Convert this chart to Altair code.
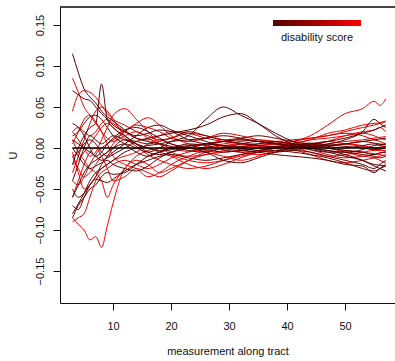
import altair as alt
import pandas as pd

# measurement positions along tract (sampled grid)
X = [3, 4, 5, 6, 7, 8, 9, 10, 12, 14, 16, 18, 20, 23, 26, 29, 32, 35, 38, 41, 44, 47, 50, 53, 55, 56, 57]

# disability score per subject (0 = black, 1 = red)
SCORES = [0.00, 0.95, 0.90, 0.00, 0.05, 1.00, 0.00, 0.00, 0.05, 0.95,
          0.90, 0.85, 0.10, 0.90, 0.00, 0.80, 0.05, 1.00, 0.15, 0.85,
          0.05, 0.95, 0.00, 0.75, 0.10, 0.95, 0.25, 0.85]

# U values (x 1000) for each subject
c01 = [115, 92, 72, 62, 55, 45, 38, 33, 22, 12, 8, 5, 2, -3, -5, 0, 5, 8, 6, 2, 0, -3, -5, -2, 3, 4, 5]
c02 = [85, 68, 50, 40, 30, 20, 12, 8, 15, 20, 12, 5, 0, -4, 2, 8, 10, 8, 5, 6, 10, 18, 22, 28, 30, 31, 33]
c03 = [45, 65, 70, 68, 62, 52, 42, 35, 28, 20, 15, 10, 12, 18, 15, 10, 5, 2, 0, -2, 0, 5, 8, 10, 12, 13, 14]
c04 = [70, 65, 60, 58, 50, 42, 35, 28, 20, 15, 18, 22, 20, 10, 5, 3, 2, 5, 8, 5, 3, 5, 10, 20, 35, 30, 25]
c05 = [-20, 0, 15, 25, 30, 78, 35, 25, 15, 5, -5, -8, -5, 0, 5, 8, 6, 3, 2, 4, 6, 4, 2, 0, -2, -1, 0]
c06 = [-85, -93, -100, -112, -108, -121, -95, -67, -25, -15, -20, -30, -25, -15, -8, -5, -3, 0, 2, 0, -5, -10, -8, -5, -3, -3, -4]
c07 = [-80, -68, -55, -40, -30, -25, -20, -15, -5, 0, 3, 5, 8, 10, 12, 15, 12, 8, 5, 3, 0, -3, -8, -15, -22, -25, -28]
c08 = [-60, -45, -30, -20, -15, -10, -5, 0, 5, 0, -5, 0, 8, 15, 35, 50, 40, 30, 18, 8, 0, -5, -10, -15, -20, -21, -22]
c09 = [10, 5, 0, -5, -10, -15, -12, -8, 0, 8, 12, 15, 18, 22, 28, 38, 42, 30, 15, 5, 2, 3, 5, 8, 10, 11, 12]
c10 = [-10, -25, -35, -30, -20, -10, -5, 5, 20, 30, 37, 28, 15, 5, 0, 3, 5, 5, 6, 8, 15, 28, 42, 48, 57, 52, 60]
c11 = [20, 10, 0, -10, -5, 10, 25, 40, 48, 35, 20, 5, -5, -10, -8, -3, 0, 3, 5, 3, -2, -8, -12, -10, -8, -6, -5]
c12 = [-30, -10, 10, 30, 45, 50, 45, 35, 15, 5, 0, -5, -10, -20, -25, -20, -12, -5, 0, 3, 5, 8, 5, 2, 0, 1, 2]
c13 = [-50, -60, -55, -45, -38, -40, -42, -38, -28, -20, -15, -10, -8, -12, -15, -12, -8, -5, -3, -5, -8, -12, -18, -25, -28, -25, -22]
c14 = [-60, -40, -20, -5, 0, -10, -25, -40, -35, -25, -30, -35, -28, -15, -5, 0, 2, 0, -3, -2, 0, 3, 5, 3, 0, -2, -3]
c15 = [0, -10, -20, -25, -22, -18, -15, -20, -25, -28, -22, -12, -5, 0, -5, -15, -18, -12, -5, 0, 2, 0, -3, -5, -8, -6, -5]
c16 = [20, 25, 20, 15, 20, 30, 35, 30, 20, 12, 10, 15, 20, 18, 12, 8, 5, 3, 5, 8, 12, 15, 20, 25, 28, 30, 32]
c17 = [-40, -20, 0, 15, 10, 5, 10, 15, 10, 5, 0, -3, 0, 5, 3, -2, -5, -3, 0, 2, 4, 2, 0, 3, 5, 3, 2]
c18 = [-5, -30, -50, -45, -35, -25, -20, -15, -10, -5, 5, 10, 5, 0, -5, -10, -15, -10, -3, 0, 3, 8, 15, 20, 22, 25, 20]
c19 = [15, 20, 30, 38, 40, 35, 25, 15, 5, -5, -10, -5, 0, 3, 5, 3, 0, -3, -5, -3, -5, -10, -15, -20, -25, -20, -15]
c20 = [-20, -15, -5, 5, 15, 25, 30, 25, 12, 2, -8, -15, -20, -25, -22, -15, -8, -3, 0, -2, -8, -15, -18, -15, -12, -10, -8]
c21 = [-85, -70, -60, -50, -45, -35, -30, -32, -30, -20, -10, -5, -2, 2, 5, 8, 10, 8, 5, 2, -2, -5, -5, -8, -10, -12, -10]
c22 = [10, -5, -15, -25, -30, -40, -60, -45, -25, -10, -3, 0, -8, -15, -18, -15, -10, -5, 0, 5, 10, 12, 15, 18, 15, 12, 10]
c23 = [30, 25, 15, 0, -10, -5, 5, 12, 22, 25, 20, 12, 5, 0, -2, -5, -3, 0, 2, 4, 5, 8, 12, 18, 22, 25, 28]
c24 = [-40, -45, -35, -20, -8, 0, 5, 10, 20, 28, 25, 20, 12, 8, 12, 18, 15, 10, 8, 10, 12, 15, 18, 15, 10, 8, 5]
c25 = [-10, -5, 5, 10, 5, -5, -10, -5, 5, 15, 25, 28, 22, 15, 8, 2, -2, -5, -8, -10, -12, -15, -20, -22, -30, -25, -20]
c26 = [5, 20, 35, 40, 32, 20, 5, -10, -20, -25, -35, -30, -20, -10, -3, 0, -5, -8, -5, 0, 2, 0, -3, -5, -7, -8, -10]
c27 = [-70, -75, -60, -45, -35, -20, -10, 0, 10, 8, 5, 8, 12, 20, 15, 10, 12, 15, 12, 8, 5, 3, 5, 8, 6, 5, 4]
c28 = [-90, -85, -80, -60, -40, -30, -25, -20, -15, -20, -25, -20, -12, -5, 0, 5, 8, 10, 8, 5, 3, 0, -5, -10, -12, -15, -18]

CURVES = [c01, c02, c03, c04, c05, c06, c07, c08, c09, c10, c11, c12, c13, c14,
          c15, c16, c17, c18, c19, c20, c21, c22, c23, c24, c25, c26, c27, c28]

ZERO_X = [3, 57]
ZERO_Y = [0, 0]

# draw redder curves first so the darker ones sit on top
order = sorted(range(len(CURVES)), key=lambda i: -SCORES[i])
rows = []
for rank, i in enumerate(order):
    for x, v in zip(X, CURVES[i]):
        rows.append({"subject": rank, "x": x, "U": v / 1000.0, "score": SCORES[i]})
df = pd.DataFrame(rows)
zero = pd.DataFrame({"x": ZERO_X, "U": ZERO_Y})

FONT = "Liberation Sans"
W, H = 335, 296

xscale = alt.Scale(domain=[0.84, 58.6], nice=False, zero=False)
yscale = alt.Scale(domain=[-0.189, 0.172], nice=False, zero=False)

xaxis = alt.Axis(values=[10, 20, 30, 40, 50], title="measurement along tract",
                 grid=False, tickSize=7, tickColor="#111", domainColor="#111",
                 labelFontSize=11, labelPadding=10, labelColor="#111",
                 titleFontSize=11, titleFontWeight="normal", titleColor="#111",
                 titlePadding=14, labelFont=FONT, titleFont=FONT)
yaxis = alt.Axis(values=[-0.15, -0.10, -0.05, 0.0, 0.05, 0.10, 0.15], format=".2f",
                 title="U", grid=False, tickSize=7, tickColor="#111", domainColor="#111",
                 labelFontSize=11, labelAngle=-90, labelAlign="center", labelBaseline="bottom",
                 labelPadding=8, labelColor="#111", titleFontSize=11, titleFontWeight="normal",
                 titleColor="#111", titlePadding=16, labelFont=FONT, titleFont=FONT)

lines = alt.Chart(df).mark_line(strokeWidth=1.0, interpolate="monotone").encode(
    x=alt.X("x:Q", scale=xscale, axis=xaxis),
    y=alt.Y("U:Q", scale=yscale, axis=yaxis),
    detail="subject:O",
    color=alt.Color("score:Q", scale=alt.Scale(domain=[0, 1], range=["#000000", "#ff0000"]),
                    legend=alt.Legend(title="disability score", orient="none",
                                      legendX=213, legendY=13, direction="horizontal",
                                      gradientLength=88, gradientThickness=6,
                                      gradientStrokeWidth=0,
                                      labelExpr="''", labelFontSize=1,
                                      titleOrient="bottom", titleAnchor="middle",
                                      titleFontSize=11, titleFontWeight="normal",
                                      titleColor="#111", titleFont=FONT, titlePadding=3)),
)

zero_line = alt.Chart(zero).mark_line(color="black", strokeWidth=1.6).encode(
    x=alt.X("x:Q", scale=xscale),
    y=alt.Y("U:Q", scale=yscale),
)

top_border = alt.Chart(zero).mark_rule(color="#111", strokeWidth=1).encode(
    x=alt.value(0), x2=alt.value(W), y=alt.value(0)
)

chart = alt.layer(lines, zero_line, top_border).properties(
    width=W, height=H,
    autosize=alt.AutoSizeParams(type="none"),
    padding={"left": 60, "top": 7, "right": 0, "bottom": 58},
).configure_view(stroke=None).configure(font=FONT)

chart.save("out.html", embed_options={"renderer": "svg", "actions": False})
